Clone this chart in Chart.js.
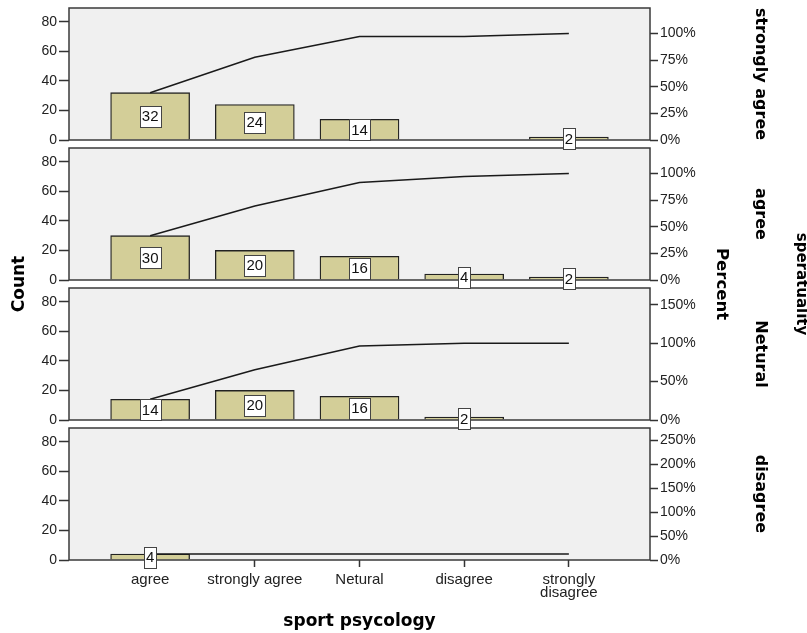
<!DOCTYPE html>
<html><head><meta charset="utf-8">
<script src="https://cdn.jsdelivr.net/npm/chart.js@4.4.1/dist/chart.umd.min.js"></script>
<style>html,body{margin:0;padding:0;background:#fff}canvas{display:block}</style>
</head><body>
<canvas id="c" width="807" height="633"></canvas>
<script>
// ---- data ----
const categories = ['agree', 'strongly agree', 'Netural', 'disagree', 'strongly disagree'];
const panelNames = ['strongly agree', 'agree', 'Netural', 'disagree'];
const countsStronglyAgree = [32, 24, 14, 0, 2];
const countsAgree = [30, 20, 16, 4, 2];
const countsNetural = [14, 20, 16, 2, 0];
const countsDisagree = [4, 0, 0, 0, 0];
const cumStronglyAgree = [32, 56, 70, 70, 72];
const cumAgree = [30, 50, 66, 70, 72];
const cumNetural = [14, 34, 50, 52, 52];
const cumDisagree = [4, 4, 4, 4, 4];
const countTicks = [0, 20, 40, 60, 80];
const pctTicksStronglyAgree = [0, 25, 50, 75, 100];
const pctTicksAgree = [0, 25, 50, 75, 100];
const pctTicksNetural = [0, 50, 100, 150];
const pctTicksDisagree = [0, 50, 100, 150, 200, 250];
const pctBaseCounts = [72, 72, 52, 32.3]; // count level where 100% sits on each right axis

// ---- setup ----
const countSeries = [countsStronglyAgree, countsAgree, countsNetural, countsDisagree];
const cumSeries = [cumStronglyAgree, cumAgree, cumNetural, cumDisagree];
const pctTicks = [pctTicksStronglyAgree, pctTicksAgree, pctTicksNetural, pctTicksDisagree];
const COUNT_MAX = 89.3;
const FIRST_W = 132, OTHER_W = 140;
const tickFont = '"Liberation Sans", Arial, sans-serif';
const titleFont = '"DejaVu Sans", Verdana, sans-serif';

const scales = {
  x: {
    type: 'linear', position: 'bottom', min: -0.775, max: 4.775, bounds: 'data', offset: false,
    afterBuildTicks: s => { s.ticks = categories.map((_, i) => ({ value: i })); },
    afterFit: s => { s.height = 73; s.paddingLeft = 0; s.paddingRight = 0; },
    ticks: {
      autoSkip: false, maxRotation: 0, minRotation: 0, padding: 6, color: '#222',
      font: { family: tickFont, size: 15, lineHeight: 0.9 },
      callback: v => { const l = categories[v]; return l === 'strongly disagree' ? ['strongly', 'disagree'] : l; }
    },
    grid: { offset: false, drawOnChartArea: false, drawTicks: true, tickLength: 7, color: '#333', tickWidth: 1.5 },
    border: { display: false }
  }
};

const datasets = [];
for (let i = 0; i < 4; i++) {
  const w = i === 0 ? FIRST_W : OTHER_W;
  const max = COUNT_MAX * w / FIRST_W;
  const tk = pctTicks[i];
  scales['y' + i] = {
    type: 'linear', position: 'left', stack: 'L', stackWeight: w, weight: 4 - i,
    min: 0, max: max, bounds: 'data',
    afterBuildTicks: s => { s.ticks = countTicks.map(v => ({ value: v })); },
    afterFit: s => { s.width = 69; s.paddingTop = 0; s.paddingBottom = 0; },
    ticks: { autoSkip: false, padding: 2, color: '#222', font: { family: tickFont, size: 14 } },
    grid: { drawOnChartArea: false, tickLength: 10, color: '#333', tickWidth: 1.5 },
    border: { display: false }
  };
  scales['p' + i] = {
    type: 'linear', position: 'right', stack: 'R', stackWeight: w, weight: i,
    min: 0, max: max / pctBaseCounts[i] * 100, bounds: 'data',
    afterBuildTicks: s => { s.ticks = tk.map(v => ({ value: v })); },
    afterFit: s => { s.width = 157; s.paddingTop = 0; s.paddingBottom = 0; },
    ticks: { autoSkip: false, padding: 2, color: '#222', font: { family: tickFont, size: 14 }, callback: v => v + '%' },
    grid: { drawOnChartArea: false, tickLength: 8, color: '#333', tickWidth: 1.5 },
    border: { display: false }
  };
  datasets.push({
    type: 'bar', label: panelNames[i], xAxisID: 'x', yAxisID: 'y' + i, order: 2,
    data: countSeries[i].map((v, j) => ({ x: j, y: v === 0 ? null : v })),
    backgroundColor: '#d3ce98', borderColor: '#222', borderWidth: 1.3,
    barThickness: 79, grouped: false
  });
}
for (let i = 0; i < 4; i++) {
  datasets.push({
    type: 'line', label: panelNames[i] + ' cumulative', xAxisID: 'x', yAxisID: 'y' + i, order: 1,
    data: cumSeries[i].map((v, j) => ({ x: j, y: v })),
    borderColor: '#1a1a1a', borderWidth: 1.5, pointRadius: 0, tension: 0, fill: false
  });
}

const panelPlugin = {
  id: 'panels',
  beforeDatasetsDraw(chart) {
    const ctx = chart.ctx, a = chart.chartArea;
    ctx.save();
    for (let i = 0; i < 4; i++) {
      const ys = chart.scales['y' + i];
      const top = ys.getPixelForValue(COUNT_MAX), bot = ys.getPixelForValue(0);
      ctx.fillStyle = '#f0f0f0';
      ctx.fillRect(a.left, top, a.right - a.left, bot - top);
    }
    ctx.restore();
  },
  afterDatasetsDraw(chart) {
    const ctx = chart.ctx, a = chart.chartArea;
    ctx.save();
    for (let i = 0; i < 4; i++) {
      const ys = chart.scales['y' + i];
      const top = ys.getPixelForValue(COUNT_MAX), bot = ys.getPixelForValue(0);
      ctx.strokeStyle = '#3a3a3a'; ctx.lineWidth = 1.5;
      ctx.strokeRect(a.left, top, a.right - a.left, bot - top);
    }
    ctx.font = '15px ' + tickFont;
    ctx.textAlign = 'center'; ctx.textBaseline = 'middle';
    for (let i = 0; i < 4; i++) {
      const ys = chart.scales['y' + i];
      const meta = chart.getDatasetMeta(i);
      countSeries[i].forEach((v, j) => {
        if (!v) return;
        const x = meta.data[j].x;
        const y = ys.getPixelForValue(v / 2);
        const t = String(v);
        const w = Math.round(ctx.measureText(t).width + 4), h = 21;
        const x0 = Math.round(x - w / 2) + 0.5, y0 = Math.round(y - h / 2) + 0.5;
        ctx.fillStyle = '#fff'; ctx.fillRect(x0, y0, w, h);
        ctx.strokeStyle = '#444'; ctx.lineWidth = 1; ctx.strokeRect(x0, y0, w, h);
        ctx.fillStyle = '#111'; ctx.fillText(t, x, y + 1);
      });
    }
    ctx.restore();
  },
  afterDraw(chart) {
    const ctx = chart.ctx, a = chart.chartArea;
    const midY = (a.top + a.bottom) / 2;
    ctx.save();
    ctx.fillStyle = '#000';
    ctx.textAlign = 'center'; ctx.textBaseline = 'middle';
    const rot = (text, x, y, ang, size) => {
      ctx.save(); ctx.translate(x, y); ctx.rotate(ang);
      ctx.font = 'bold ' + size + 'px ' + titleFont;
      ctx.fillText(text, 0, 0); ctx.restore();
    };
    rot('Count', 20, midY, -Math.PI / 2, 17);
    rot('Percent', 721, midY, Math.PI / 2, 16.5);
    rot('speratuality', 801, midY, Math.PI / 2, 15);
    for (let i = 0; i < 4; i++) {
      const ys = chart.scales['y' + i];
      const c = (ys.getPixelForValue(COUNT_MAX) + ys.getPixelForValue(0)) / 2;
      rot(panelNames[i], 760, c, Math.PI / 2, 16);
    }
    ctx.font = 'bold 17px ' + titleFont;
    ctx.textBaseline = 'alphabetic';
    ctx.fillText('sport psycology', (a.left + a.right) / 2, 626);
    ctx.restore();
  }
};

new Chart(document.getElementById('c'), {
  data: { datasets },
  options: {
    responsive: false, animation: false, devicePixelRatio: 1,
    layout: { padding: { top: 8, left: 0, right: 0, bottom: 0 } },
    plugins: { legend: { display: false }, tooltip: { enabled: false } },
    scales
  },
  plugins: [panelPlugin]
});
</script>
</body></html>
